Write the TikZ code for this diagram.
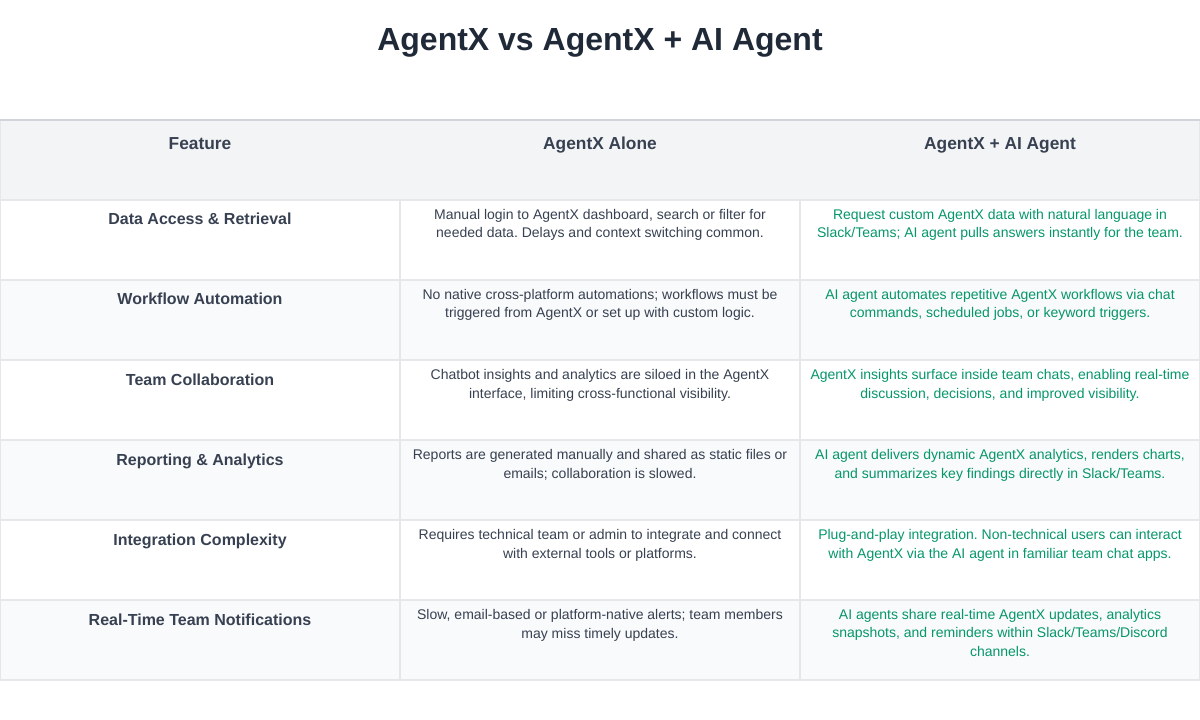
\documentclass[tikz,border=0pt]{standalone}
\usepackage{fontspec}
\setmainfont{Liberation Sans}
\frenchspacing
\definecolor{ttitle}{HTML}{1F2937}
\definecolor{ttext}{HTML}{374151}
\definecolor{ggreen}{HTML}{059669}
\definecolor{hhead}{HTML}{F3F4F6}
\definecolor{rrow}{HTML}{F9FAFB}
\definecolor{lline}{HTML}{E5E7EB}
\definecolor{bborder}{HTML}{D1D5DB}

\tikzset{
  head/.style={anchor=base, inner sep=0pt, text=ttext, font=\fontsize{13}{15}\selectfont\bfseries},
  feat/.style={anchor=base, inner sep=0pt, text=ttext, font=\fontsize{12}{14}\selectfont\bfseries},
  cell/.style={anchor=base, inner sep=0pt, align=center, text=ttext, font=\fontsize{10.5}{13.7}\selectfont},
  aicell/.style={cell, text=ggreen}
}

\begin{document}
\begin{tikzpicture}[x=0.75pt, y=-0.75pt]
\useasboundingbox (0,0) rectangle (1200,720);

% backgrounds
\fill[hhead] (0,120) rectangle (1200,200);
\foreach \y in {280,440,600}
  \fill[rrow] (0,\y) rectangle (1200,\y+80);

% grid
\foreach \y in {280,360,...,680}
  \draw[lline, line width=1.2pt] (0,\y) -- (1200,\y);
\foreach \x in {400,800}
  \draw[lline, line width=1.2pt] (\x,200) -- (\x,680);
\draw[lline, line width=1.2pt] (0,120) -- (0,680);
\draw[lline, line width=1.2pt] (1200,120) -- (1200,680);
\draw[lline, line width=1.5pt] (0,200) -- (1200,200);
\draw[bborder, line width=1.5pt] (0,120) -- (1200,120);

\node[anchor=base, inner sep=0pt, text=ttitle, font=\fontsize{24}{28}\selectfont\bfseries] (title) at (600,51) {AgentX vs AgentX + AI Agent};

% header
\node[head] (hfeat) at (200,150) {Feature};
\node[head] (halone) at (600,150) {AgentX Alone};
\node[head] (hai) at (1000,150) {AgentX + AI Agent};

% rows (cell nodes sit on the baseline of their last line)
\node[feat] (f1) at (200,225) {Data Access \& Retrieval};
\node[cell] (a1) at (600,238) {Manual login to AgentX dashboard, search or filter for\\needed data. Delays and context switching common.};
\node[aicell] (x1) at (1000,238) {Request custom AgentX data with natural language in\\Slack/Teams; AI agent pulls answers instantly for the team.};

\node[feat] (f2) at (200,305) {Workflow Automation};
\node[cell] (a2) at (600,318) {No native cross-platform automations; workflows must be\\triggered from AgentX or set up with custom logic.};
\node[aicell] (x2) at (1000,318) {AI agent automates repetitive AgentX workflows via chat\\commands, scheduled jobs, or keyword triggers.};

\node[feat] (f3) at (200,385) {Team Collaboration};
\node[cell] (a3) at (600,398) {Chatbot insights and analytics are siloed in the AgentX\\interface, limiting cross-functional visibility.};
\node[aicell] (x3) at (1000,398) {AgentX insights surface inside team chats, enabling real-time\\discussion, decisions, and improved visibility.};

\node[feat] (f4) at (200,465) {Reporting \& Analytics};
\node[cell] (a4) at (600,478) {Reports are generated manually and shared as static files or\\emails; collaboration is slowed.};
\node[aicell] (x4) at (1000,478) {AI agent delivers dynamic AgentX analytics, renders charts,\\and summarizes key findings directly in Slack/Teams.};

\node[feat] (f5) at (200,545) {Integration Complexity};
\node[cell] (a5) at (600,558) {Requires technical team or admin to integrate and connect\\with external tools or platforms.};
\node[aicell] (x5) at (1000,558) {Plug-and-play integration. Non-technical users can interact\\with AgentX via the AI agent in familiar team chat apps.};

\node[feat] (f6) at (200,625) {Real-Time Team Notifications};
\node[cell] (a6) at (600,638) {Slow, email-based or platform-native alerts; team members\\may miss timely updates.};
\node[aicell] (x6) at (1000,656) {AI agents share real-time AgentX updates, analytics\\snapshots, and reminders within Slack/Teams/Discord\\channels.};
\end{tikzpicture}
\end{document}
